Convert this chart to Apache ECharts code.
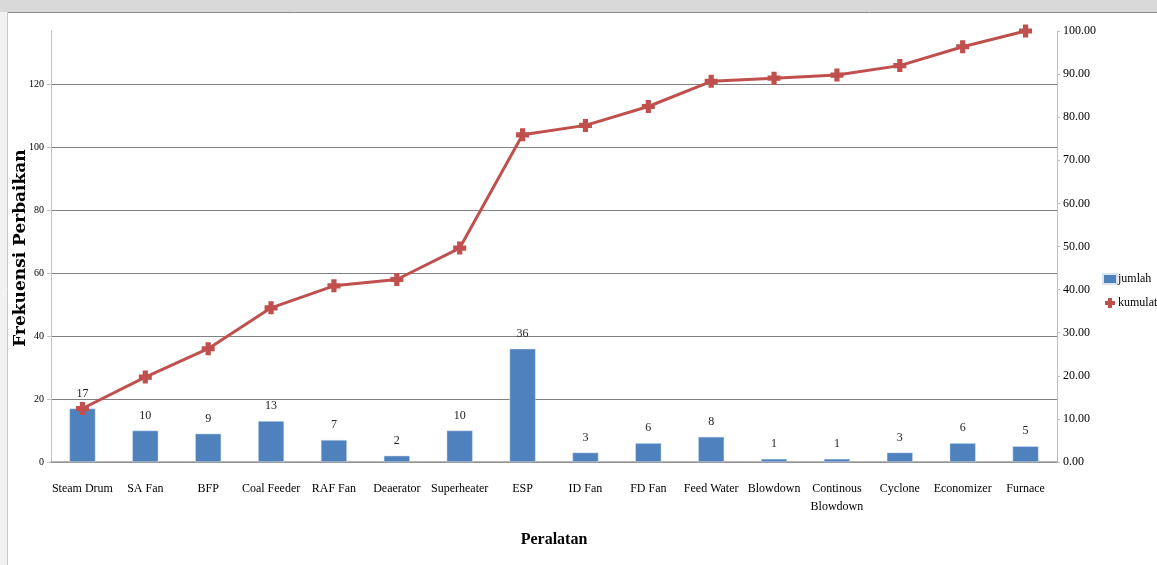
<!DOCTYPE html>
<html>
<head>
<meta charset="utf-8">
<script src="https://cdn.jsdelivr.net/npm/echarts@6/dist/echarts.min.js"></script>
<style>html,body{margin:0;padding:0;background:#fff}#c{width:1157px;height:565px}</style>
</head>
<body>
<div id="c"></div>
<script>
const categories = ['Steam Drum','SA Fan','BFP','Coal Feeder','RAF Fan','Deaerator','Superheater','ESP','ID Fan','FD Fan','Feed Water','Blowdown','Continous Blowdown','Cyclone','Economizer','Furnace'];
const jumlah = [17,10,9,13,7,2,10,36,3,6,8,1,1,3,6,5];
const kumulatif = [12.41,19.71,26.28,35.77,40.88,42.34,49.64,75.91,78.10,82.48,88.32,89.05,89.78,91.97,96.35,100.00];
const leftTicksMax = 137;
const rightTicksMax = 100;

const plusPath = 'path://M3,0H7V3H10V7H7V10H3V7H0V3H3Z';
const serif = "'Liberation Serif', 'Times New Roman', serif";

const chart = echarts.init(document.getElementById('c'), null, {renderer:'canvas'});
chart.setOption({
  animation: false,
  backgroundColor: '#fff',
  graphic: [
    {type:'rect', left:0, top:0, shape:{width:1157, height:12}, style:{fill:'#d9d9d9'}, z:-10},
    {type:'rect', left:0, top:12, shape:{width:7, height:553}, style:{fill:'#f2f2f2'}, z:-10},
    {type:'line', shape:{x1:7, y1:12.5, x2:1157, y2:12.5}, style:{stroke:'#8a8a8a', lineWidth:1}, z:-5},
    {type:'line', shape:{x1:7.5, y1:12, x2:7.5, y2:565}, style:{stroke:'#c8c8c8', lineWidth:1}, z:-5},
    {type:'text', x:21, y:248, rotation:Math.PI/2,
      style:{text:'Frekuensi Perbaikan', font:"bold 17px 'DejaVu Serif', serif", fill:'#000', align:'center', verticalAlign:'middle'}}
  ],
  legend: {
    orient:'vertical', left:1097, top:268, itemGap:12, itemWidth:14, itemHeight:10,
    textStyle:{fontFamily:serif, fontSize:12, color:'#000', padding:[0,0,0,-4]},
    data:[{name:'jumlah', icon:'rect', itemStyle:{color:'#4F81BD'}},
          {name:'kumulatif %', icon:plusPath}]
  },
  grid: {left:51, right:100, top:31, bottom:103, containLabel:false},
  xAxis: {
    type:'category', data:categories,
    name:'Peralatan', nameLocation:'middle', nameGap:70,
    nameTextStyle:{fontFamily:serif, fontSize:16, fontWeight:'bold', color:'#000'},
    axisLine:{lineStyle:{color:'#9a9a9a', width:1.5}},
    axisTick:{show:false},
    axisLabel:{fontFamily:serif, fontSize:12, color:'#000', margin:18, interval:0,
      formatter: v => v.length > 12 ? v.replace(' ', '\n') : v, lineHeight:18}
  },
  yAxis: [
    {type:'value', min:0, max:leftTicksMax, interval:20,
     axisLine:{show:true, lineStyle:{color:'#c0c0c0'}},
     axisTick:{show:true, length:4, lineStyle:{color:'#c0c0c0'}},
     axisLabel:{fontFamily:serif, fontSize:10, color:'#000', margin:7, showMaxLabel:false},
     splitLine:{show:true, showMaxLine:false, lineStyle:{color:'#808080', width:1.2}}},
    {type:'value', min:0, max:rightTicksMax, interval:10, position:'right',
     axisLine:{show:true, lineStyle:{color:'#c0c0c0'}},
     axisTick:{show:true, length:3, lineStyle:{color:'#c0c0c0'}},
     axisLabel:{fontFamily:serif, fontSize:12, color:'#000', margin:6, formatter:v=>v.toFixed(2)},
     splitLine:{show:false}}
  ],
  series: [
    {name:'jumlah', type:'bar', data:jumlah, barWidth:26, yAxisIndex:0,
     itemStyle:{color:'#4F81BD', borderColor:'#dbe5f1', borderWidth:0.5},
     label:{show:true, position:'top', distance:9, fontFamily:serif, fontSize:12, color:'#222'}},
    {name:'kumulatif %', type:'line', data:kumulatif, yAxisIndex:1,
     symbol:plusPath, symbolSize:13, showAllSymbol:true,
     lineStyle:{color:'#C0504D', width:3},
     itemStyle:{color:'#C0504D'}}
  ]
});
</script>
</body>
</html>
